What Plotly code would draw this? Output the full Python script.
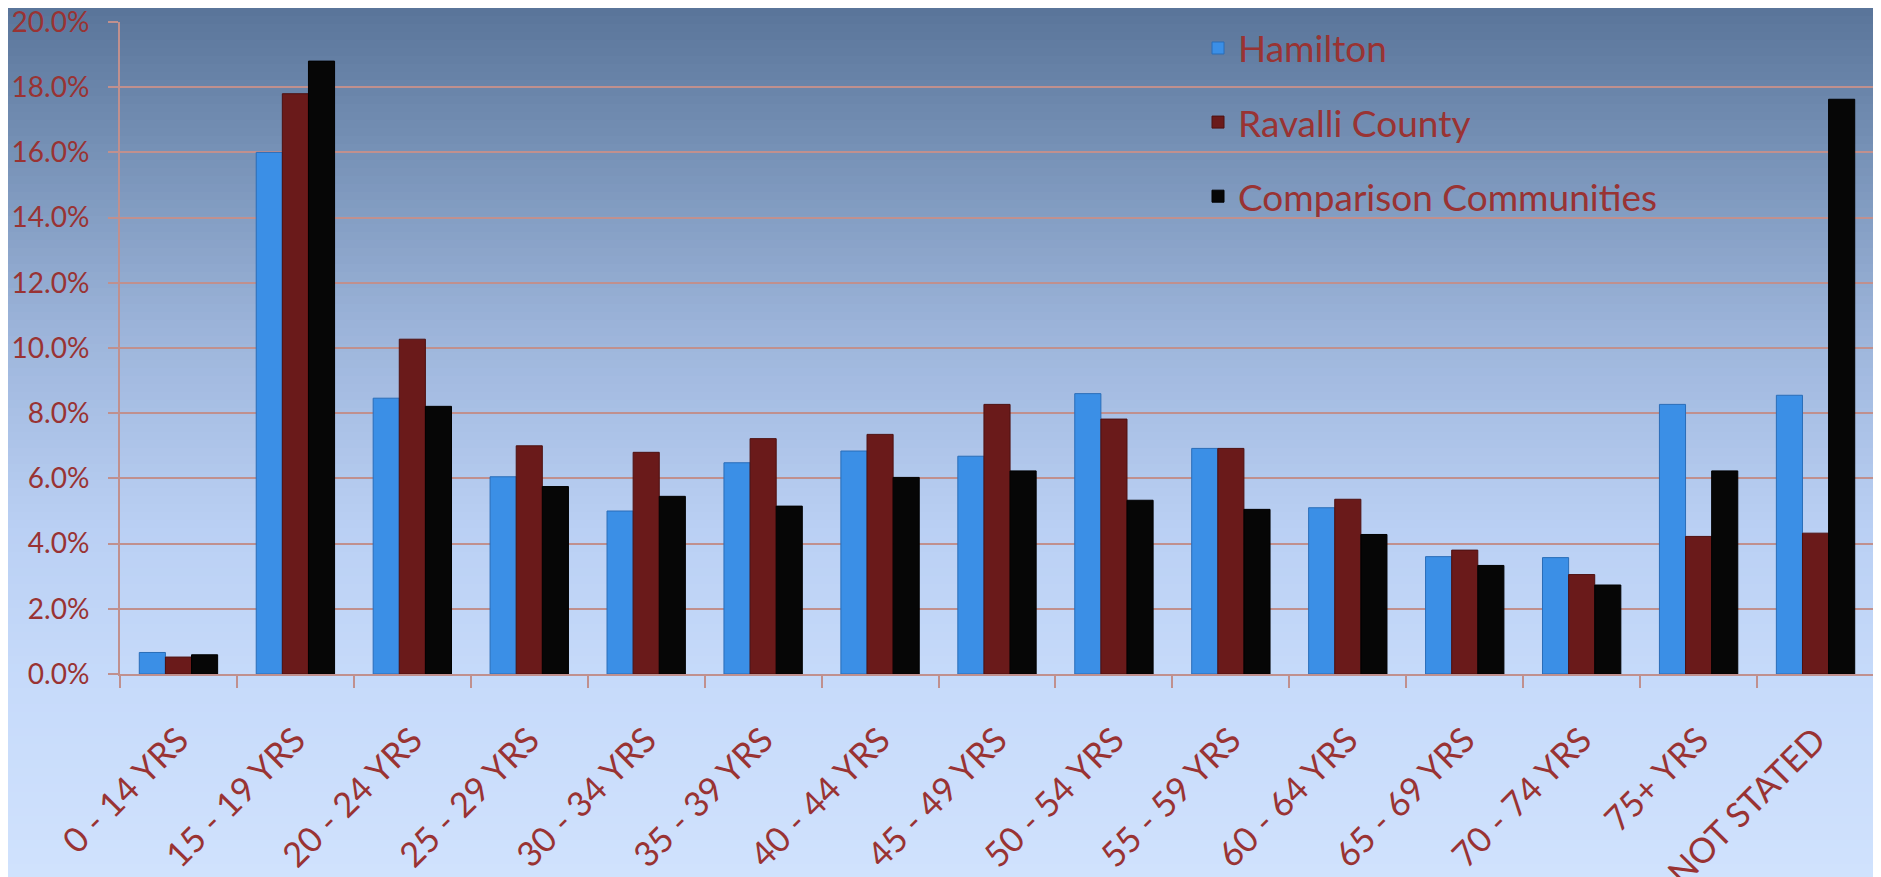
import plotly.graph_objects as go

categories = ["0 - 14 YRS", "15 - 19 YRS", "20 - 24 YRS", "25 - 29 YRS", "30 - 34 YRS",
              "35 - 39 YRS", "40 - 44 YRS", "45 - 49 YRS", "50 - 54 YRS", "55 - 59 YRS",
              "60 - 64 YRS", "65 - 69 YRS", "70 - 74 YRS", "75+ YRS", "NOT STATED"]
hamilton = [0.66, 16.0, 8.46, 6.05, 5.0, 6.48, 6.84, 6.68, 8.6, 6.92, 5.1, 3.6, 3.57, 8.27, 8.55]
ravalli = [0.52, 17.8, 10.27, 7.0, 6.8, 7.22, 7.35, 8.27, 7.82, 6.92, 5.36, 3.8, 3.05, 4.22, 4.32]
comparison = [0.59, 18.8, 8.21, 5.75, 5.45, 5.15, 6.03, 6.23, 5.33, 5.05, 4.28, 3.33, 2.73, 6.23, 17.63]

series_names = ["Hamilton", "Ravalli County", "Comparison Communities"]
series_values = [hamilton, ravalli, comparison]
series_colors = ["#3b8fe6", "#6a1a1a", "#060606"]
series_lines = ["#2a6db8", "#4e1010", "#000000"]

W, H = 1881, 877
OFF = 8  # page body margin offset
ML, MR, MT, MB = 120 - OFF, 7 + OFF, 22 - OFF, 203 + OFF
TXT = "#993333"
GRID = "#c0908e"
FONT = "Lato"

fig = go.Figure()
for name, vals, col, lc in zip(series_names, series_values, series_colors, series_lines):
    fig.add_trace(go.Bar(
        x=categories, y=vals, name=name, legendgroup=name,
        marker=dict(color=col, line=dict(color=lc, width=1)),
    ))

# vertical background gradient (decoration), in window pixel rows
stops = [(0, (88, 115, 152)), (150, (118, 145, 182)), (330, (156, 180, 218)),
         (520, (185, 207, 243)), (674, (198, 218, 250)), (877, (208, 226, 253))]
def col_at(yp):
    for (y0, c0), (y1, c1) in zip(stops[:-1], stops[1:]):
        if y0 <= yp <= y1:
            t = (yp - y0) / (y1 - y0)
            return "rgb(%d,%d,%d)" % tuple(round(a + (b - a) * t) for a, b in zip(c0, c1))
    return "rgb(%d,%d,%d)" % stops[-1][1]

ph = H - MT - MB
pw = W - ML - MR
shapes = []
step = 8
for y in range(0, H, step):  # y in figure pixels
    y0p = (H - MB - y) / ph
    y1p = (H - MB - (y + step + 1)) / ph
    shapes.append(dict(type="rect", xref="paper", yref="paper",
                       x0=-ML / pw - 0.01, x1=1 + MR / pw + 0.01, y0=y1p, y1=y0p,
                       fillcolor=col_at(y + OFF + step / 2), line=dict(width=0), layer="below"))

fig.update_layout(
    width=W, height=H,
    margin=dict(l=ML, r=MR, t=MT, b=MB, autoexpand=False),
    paper_bgcolor="rgb(208,226,253)",
    plot_bgcolor="rgba(0,0,0,0)",
    shapes=shapes,
    barmode="group", bargap=0.33, bargroupgap=0,
    font=dict(family=FONT, color=TXT),
    legend=dict(x=0.6146, y=1.007, xanchor="left", yanchor="top",
                bgcolor="rgba(0,0,0,0)", font=dict(size=37, color=TXT, family=FONT),
                traceorder="grouped", tracegroupgap=23),
    xaxis=dict(
        type="category", tickangle=-45, tickfont=dict(size=34.5, color=TXT, family=FONT),
        showline=True, linecolor=GRID, linewidth=2,
        ticks="outside", ticklen=12, tickwidth=2, tickcolor=GRID,
        tickson="boundaries", showgrid=False, automargin=False,
        ticklabelstandoff=30,
    ),
    yaxis=dict(
        range=[0, 20], dtick=2, tickformat=".1f", ticksuffix="%",
        tickfont=dict(size=28, color=TXT, family=FONT),
        showline=True, linecolor=GRID, linewidth=2,
        showgrid=True, gridcolor=GRID, gridwidth=2, zeroline=False,
        ticks="outside", ticklen=10, tickwidth=2, tickcolor=GRID,
        automargin=False, ticklabelstandoff=13, ticklabeloverflow="allow",
    ),
)

fig.write_html("out.html")
